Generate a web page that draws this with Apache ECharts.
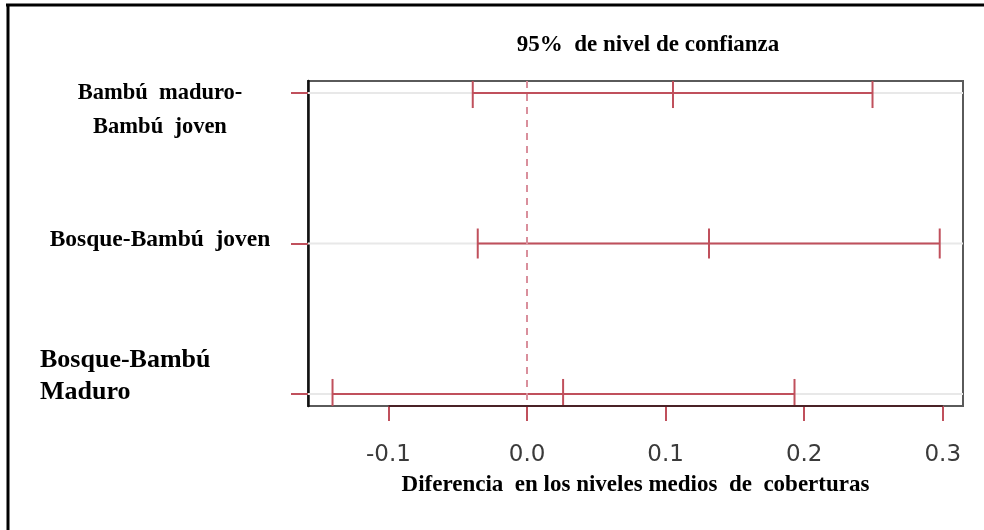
<!DOCTYPE html>
<html>
<head>
<meta charset="utf-8">
<script src="https://cdn.jsdelivr.net/npm/echarts@6/dist/echarts.min.js"></script>
<style>
  html, body { margin: 0; padding: 0; background: #fff; }
  #chart { width: 984px; height: 530px; }
</style>
</head>
<body>
<div id="chart"></div>
<script>
// Tukey HSD style comparisons: mean difference with 95% family-wise interval
const rowLines = [
  ['Bambú  maduro-', 'Bambú  joven'],
  ['Bosque-Bambú  joven'],
  ['Bosque-Bambú', 'Maduro']
];
const rowPos = [1, 2, 3];
const diff = [0.1053, 0.1313, 0.0260];
const lwr = [-0.0392, -0.0356, -0.1404];
const upr = [0.2493, 0.2978, 0.1930];
const xTicks = [-0.1, 0.0, 0.1, 0.2, 0.3];

const RED = '#c0505c';
const SERIF = '"Liberation Serif", "Times New Roman", serif';

const intervalData = rowPos.map((r, i) => [lwr[i], diff[i], upr[i], r]);

function renderItem(params, api) {
  const row = api.value(3);
  const pL = api.coord([api.value(0), row]);
  const pM = api.coord([api.value(1), row]);
  const pU = api.coord([api.value(2), row]);
  const cs = params.coordSys;
  const h = 15;
  const style = { stroke: RED, lineWidth: 2 };
  const tick = p => ({ type: 'line', shape: { x1: p[0], y1: p[1] - h, x2: p[0], y2: p[1] + h }, style });
  return {
    type: 'group',
    children: [
      // light row guide across the panel
      { type: 'line', shape: { x1: cs.x, y1: pM[1], x2: cs.x + cs.width, y2: pM[1] }, style: { stroke: '#e8e8e8', lineWidth: 2 } },
      { type: 'line', shape: { x1: pL[0], y1: pL[1], x2: pU[0], y2: pU[1] }, style },
      tick(pL), tick(pM), tick(pU)
    ]
  };
}

const chart = echarts.init(document.getElementById('chart'), null, { renderer: 'canvas' });

const yLabelGraphics = [
  { x: 160, y: 93, lines: rowLines[0], size: 22.5, align: 'center', lh: 34 },
  { x: 160, y: 240, lines: rowLines[1], size: 23.5, align: 'center', lh: 34 },
  { x: 40, y: 360, lines: rowLines[2], size: 26, align: 'left', lh: 32 }
].map(o => ({
  type: 'text',
  x: o.x,
  y: o.y + (o.lines.length - 1) * o.lh / 2,
  style: {
    text: o.lines.join('\n'),
    fontFamily: SERIF,
    fontWeight: 'bold',
    fontSize: o.size,
    lineHeight: o.lh,
    fill: '#000',
    align: o.align,
    verticalAlign: 'middle'
  }
}));

chart.setOption({
  animation: false,
  backgroundColor: '#fff',
  grid: {
    left: 308, top: 81, width: 655, height: 325,
    show: true, borderColor: '#5a5a5a', borderWidth: 2
  },
  xAxis: {
    type: 'value',
    min: -0.1581,
    max: 0.3146,
    name: 'Diferencia  en los niveles medios  de  coberturas',
    nameLocation: 'middle',
    nameGap: 68,
    nameTextStyle: { fontFamily: SERIF, fontWeight: 'bold', fontSize: 23, color: '#000' },
    axisLine: { show: false, onZero: false },
    axisTick: { show: true, customValues: xTicks, length: 15, lineStyle: { color: RED, width: 2 } },
    axisLabel: {
      customValues: xTicks,
      formatter: v => v.toFixed(1),
      margin: 38,
      fontFamily: '"DejaVu Sans", sans-serif',
      fontSize: 23,
      color: '#3a3a3a'
    },
    splitLine: { show: false }
  },
  yAxis: {
    type: 'value',
    min: 0.92,
    max: 3.08,
    inverse: true,
    axisLine: { show: true, onZero: false, lineStyle: { color: '#111', width: 2.5 } },
    axisTick: { show: true, customValues: rowPos, length: 17, lineStyle: { color: RED, width: 2 } },
    axisLabel: { show: false },
    splitLine: { show: false }
  },
  graphic: [
    { type: 'line', shape: { x1: 6, y1: 5, x2: 984, y2: 5 }, style: { stroke: '#000', lineWidth: 3 } },
    { type: 'line', shape: { x1: 8, y1: 4, x2: 8, y2: 530 }, style: { stroke: '#000', lineWidth: 3 } },
    {
      type: 'text', x: 648, y: 45,
      style: {
        text: '95%  de nivel de confianza',
        fontFamily: SERIF, fontWeight: 'bold', fontSize: 23, fill: '#000',
        align: 'center', verticalAlign: 'middle'
      }
    }
  ].concat(yLabelGraphics),
  series: [
    {
      type: 'custom',
      z: 2,
      clip: true,
      renderItem: renderItem,
      data: intervalData
    },
    {
      // zero reference and the labelled stretch of the bottom axis
      type: 'line',
      data: [],
      z: 3,
      silent: true,
      markLine: {
        silent: true,
        symbol: ['none', 'none'],
        label: { show: false },
        animation: false,
        data: [
          { xAxis: 0, lineStyle: { color: '#d98f9c', width: 2, type: [7, 6] } },
          [
            { coord: [xTicks[0], 3.08], lineStyle: { color: '#4a2226', width: 2, type: 'solid' } },
            { coord: [xTicks[xTicks.length - 1], 3.08] }
          ]
        ]
      }
    }
  ]
});
</script>
</body>
</html>
